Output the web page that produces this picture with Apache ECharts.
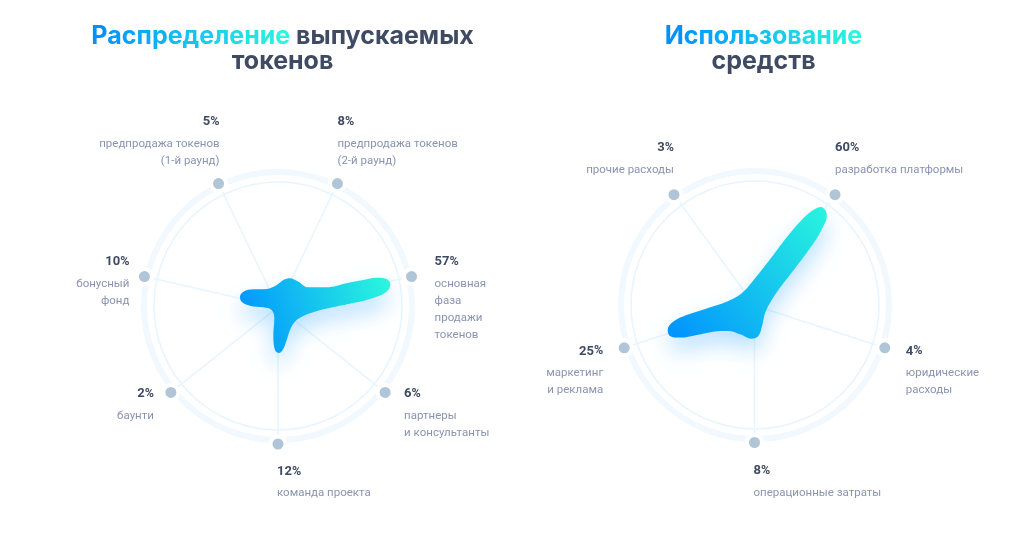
<!DOCTYPE html>
<html lang="ru">

<head>
    <meta charset="UTF-8">
    <title>Распределение токенов</title>
    <style>
        html, body { margin: 0; background: #fff; }
        #chart { width: 1024px; height: 535px; }
    </style>
</head>

<body>
    <div id="chart"></div>
    <script src="https://cdn.jsdelivr.net/npm/echarts@6/dist/echarts.min.js"></script>
    <script>
        // Left chart, clockwise from the spoke right of the top
        const tokenNames = ['предпродажа токенов\n(2-й раунд)', 'основная\nфаза\nпродажи\nтокенов', 'партнеры\nи консультанты',
            'команда проекта', 'баунти', 'бонусный\nфонд', 'предпродажа токенов\n(1-й раунд)'];
        const tokenPercents = [8, 57, 6, 12, 2, 10, 5];
        // Outline of the blob: radius and angle (deg from north)
        const tokenBlobRadius = [68.7, 45.5, 27.2, 23.1, 26.8, 37.2, 44.2, 47, 44.1, 29.4, 12.9, 7.5, 14.7, 28, 36.6, 39.1, 37.5, 29.8, 20.4, 21, 26.5, 30.2, 31.7, 35.6, 52.1, 72.3, 89.2, 102.7, 112, 114.4, 109.6, 92.3];
        const tokenBlobAngle = [88.6, 94.2, 111.5, 132.7, 153.4, 167.6, 173.9, 178.8, 183.9, 189.1, 196.6, 237.7, 264.8, 270.7, 276.8, 283.8, 292.5, 304, 326.3, 356.4, 11.6, 23.4, 39.9, 58.4, 69, 71.7, 73.1, 74, 76, 79.1, 82.5, 85.6];

        // Right chart
        const fundNames = ['разработка платформы', 'юридические\nрасходы', 'операционные затраты', 'маркетинг\nи реклама', 'прочие расходы'];
        const fundPercents = [60, 4, 8, 25, 3];
        const fundBlobRadius = [62.5, 35.7, 17.4, 13, 21.3, 31.2, 33.8, 32.9, 37.2, 49.5, 65.6, 81.8, 90.5, 90.8, 83.3, 69.1, 48.4, 28.5, 17.7, 26.7, 53.3, 79.8, 103.8, 113.2, 118, 117.9, 113.8, 104.5, 90.8];
        const fundBlobAngle = [46.1, 52.6, 73.3, 129.8, 159.9, 173.9, 185.7, 207.1, 225.7, 237.4, 242.8, 246.5, 250, 254, 258.5, 261.7, 266, 276.7, 311.2, 0, 20.1, 26, 29.9, 32, 33.8, 36.8, 39.1, 40.9, 42.8];

        const DARK = '#3f4a63';
        const GREY = '#8a94b2';
        const BLUE = [0, 145, 255];
        const CYAN = [42, 245, 222];

        // text cannot take a gradient fill, so the coloured word goes letter by letter
        function gradientWord(word, rich) {
            return word.split('').map((ch, i) => {
                const t = i / (word.length - 1);
                const c = BLUE.map((v, k) => Math.round(v + (CYAN[k] - v) * t));
                rich['g' + i] = { color: `rgb(${c.join(',')})` };
                return `{g${i}|${ch}}`;
            }).join('');
        }

        function makeTitle(word, rest, x) {
            const rich = { d: { color: DARK } };
            const head = gradientWord(word, rich);
            const lines = rest.map((r, i) => `{d|${r}}`);
            return {
                text: rest.length > 1 ? `${head}{d| ${rest[0]}}\n${lines[1]}` : `${head}\n${lines[0]}`,
                left: x,
                top: 19,
                textAlign: 'center',
                textStyle: {
                    fontFamily: 'Inter',
                    fontWeight: 700,
                    fontSize: 25,
                    lineHeight: 25,
                    rich: rich
                }
            };
        }

        const option = {
            animation: false,
            backgroundColor: '#fff',
            title: [
                makeTitle('Распределение', ['выпускаемых', 'токенов'], 277.5),
                makeTitle('Использование', ['средств'], 758.5)
            ],
            polar: [],
            angleAxis: [],
            radiusAxis: [],
            series: []
        };

        function addChart(conf) {
            const base = option.polar.length;
            const R_DOTS = 137, R_BAND = 134, R_RING = 124;

            // spokes and dots / thin ring and blob / thick ring
            [[R_DOTS, conf.dotCenter], [R_RING, conf.center], [R_BAND, conf.center]].forEach(p => {
                option.polar.push({ center: p[1], radius: p[0] });
                option.radiusAxis.push({ polarIndex: option.polar.length - 1, show: false, min: 0, max: p[0] });
            });
            option.angleAxis.push({
                polarIndex: base,
                type: 'category',
                boundaryGap: false,
                startAngle: conf.startAngle,
                data: conf.names,
                axisLine: { show: false },
                axisTick: { show: false },
                axisLabel: { show: false },
                splitLine: { show: true, lineStyle: { color: '#e8f5ff', width: 1.5 } }
            });
            option.angleAxis.push({
                polarIndex: base + 1,
                type: 'value', min: 0, max: 360, startAngle: 90,
                axisLine: { show: true, lineStyle: { color: '#e8f5ff', width: 1.5 } },
                axisTick: { show: false },
                axisLabel: { show: false },
                splitLine: { show: false }
            });
            option.angleAxis.push({
                polarIndex: base + 2,
                type: 'value', min: 0, max: 360, startAngle: 90,
                axisLine: { show: true, lineStyle: { color: '#f1f8fe', width: 6 } },
                axisTick: { show: false },
                axisLabel: { show: false },
                splitLine: { show: false }
            });

            // the blob, first points repeated so the seam stays smooth
            const blob = conf.blobRadius.map((r, i) => [r, conf.blobAngle[i]]);
            option.series.push({
                type: 'line',
                coordinateSystem: 'polar',
                polarIndex: base + 1,
                data: blob.concat(blob.slice(0, 2)),
                smooth: 0.38,
                clip: false,
                symbol: 'none',
                silent: true,
                z: 3,
                lineStyle: { width: 0 },
                areaStyle: {
                    opacity: 1,
                    color: new echarts.graphic.LinearGradient(conf.grad[0], conf.grad[1], conf.grad[2], conf.grad[3], [
                        { offset: 0, color: '#0091ff' },
                        { offset: 1, color: '#2af5de' }
                    ]),
                    shadowColor: 'rgba(0, 145, 255, 0.28)',
                    shadowBlur: 22,
                    shadowOffsetY: 12
                }
            });

            // dots with their labels
            option.series.push({
                type: 'scatter',
                coordinateSystem: 'polar',
                polarIndex: base,
                clip: false,
                silent: true,
                z: 4,
                symbolSize: 15,
                itemStyle: { color: '#b0c5d8', borderColor: '#fff', borderWidth: 4, opacity: 1 },
                data: conf.percents.map((p, i) => ({
                    value: [R_DOTS, i],
                    label: {
                        show: true,
                        position: 'inside',
                        align: conf.labels[i][2],
                        verticalAlign: 'top',
                        offset: [conf.labels[i][0], conf.labels[i][1]],
                        formatter: `{p|${p}}{q|%}\n` + conf.names[i].split('\n').map(n => `{n|${n}}`).join('\n'),
                        rich: {
                            p: { fontFamily: 'Roboto', fontWeight: 700, fontSize: 13, lineHeight: 27, color: DARK },
                            q: { fontFamily: 'Roboto', fontWeight: 700, fontSize: 12.5, lineHeight: 27, color: DARK },
                            n: { fontFamily: 'Roboto', fontSize: 11.5, lineHeight: 17, color: GREY }
                        }
                    }
                }))
            });
        }

        addChart({
            center: [278, 306],
            dotCenter: [278, 307],
            startAngle: 90 - 180 / 7,
            names: tokenNames,
            percents: tokenPercents,
            blobRadius: tokenBlobRadius,
            blobAngle: tokenBlobAngle,
            grad: [0, 0.8, 1, 0.2],
            labels: [[0, -75, 'left'], [23, -28, 'left'], [19, -12, 'left'], [-1, 14, 'left'], [-17, -12, 'right'], [-15, -28, 'right'], [1, -75, 'right']]
        });
        addChart({
            center: [755, 305],
            dotCenter: [754.5, 305.5],
            startAngle: 54,
            names: fundNames,
            percents: fundPercents,
            blobRadius: fundBlobRadius,
            blobAngle: fundBlobAngle,
            grad: [0, 1, 1, 0],
            labels: [[0, -60, 'left'], [21, -10, 'left'], [-1, 15, 'left'], [-21, -10, 'right'], [0, -60, 'right']]
        });

        const oChart = echarts.init(document.querySelector('#chart'));
        oChart.setOption(option);
    </script>
</body>

</html>
